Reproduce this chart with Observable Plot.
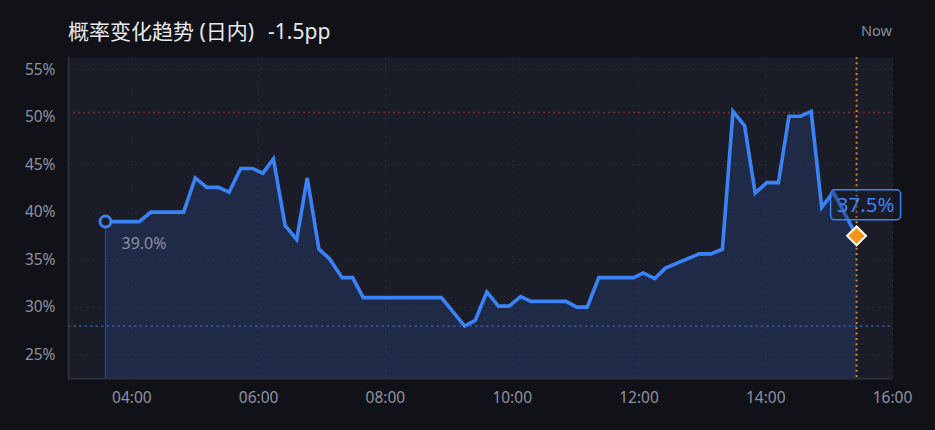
<!DOCTYPE html>
<html>
<head>
<meta charset="utf-8">
<script src="https://cdn.jsdelivr.net/npm/d3@7"></script>
<script src="https://cdn.jsdelivr.net/npm/@observablehq/plot@0.6"></script>
<style>
  html, body { margin: 0; padding: 0; background: #111217; }
  #wrap { position: relative; width: 935px; height: 430px; background: #111217; font-family: "Noto Sans", "Noto Sans CJK SC", sans-serif; overflow: hidden; }
  #title { position: absolute; left: 68px; top: 17px; font-size: 21px; line-height: 28px; color: #e7e8ec; white-space: nowrap; }
  #title .delta { margin-left: 14px; }
  #now { position: absolute; right: 43px; top: 19px; font-size: 14.5px; line-height: 22px; color: #878b9c; }
  #chart { position: absolute; left: 0; top: 57px; }
</style>
</head>
<body>
<div id="wrap">
  <div id="title">概率变化趋势 (日内)<span class="delta">-1.5pp</span></div>
  <div id="now">Now</div>
  <div id="chart"></div>
</div>
<script>
// ---- data ----
const times = ["03:35","04:07","04:18","04:49","05:00","05:11","05:22","05:32","05:43","05:54",
               "06:04","06:14","06:25","06:36","06:46","06:57","07:07","07:19","07:29","07:39",
               "08:53","09:15","09:25","09:36","09:47","09:57","10:08","10:18","10:51","11:01",
               "11:11","11:22","11:55","12:04","12:15","12:25","12:57","13:08","13:19","13:29",
               "13:40","13:50","14:01","14:12","14:22","14:33","14:43","14:53","15:04","15:26"];
const values = [39.0,39.0,40.0,40.0,43.6,42.6,42.6,42.1,44.6,44.6,
                44.1,45.6,38.6,37.1,43.6,36.1,35.1,33.1,33.1,31.0,
                31.0,28.0,28.6,31.6,30.1,30.1,31.1,30.6,30.6,30.0,
                30.0,33.1,33.1,33.6,33.0,34.1,35.6,35.6,36.1,50.6,
                49.1,42.0,43.1,43.1,50.1,50.1,50.6,40.5,42.1,37.5];
const xDomain = ["03:00","16:00"];
const xTickLabels = ["04:00","06:00","08:00","10:00","12:00","14:00","16:00"];
const yDomain = [22.48, 56.28];
const yTicks = [25,30,35,40,45,50,55];
const maxValue = 50.5;
const minValue = 28.0;
const nowTime = "15:26";

// ---- build ----
const parse = d3.utcParse("%H:%M");
const data = times.map((t, i) => ({t: parse(t), v: values[i]}));
const first = data[0];
const last = data[data.length - 1];
const xTicks = xTickLabels.map(parse);

const BLUE = "#3b82f6";
const PANEL = "#1a1c27";
const GRID = "#232634";

function endLabel(index, scales, values, dimensions, context) {
  const g = d3.create("svg:g");
  const px = scales.x(last.t), py = scales.y(last.v);
  g.append("rect")
    .attr("x", px - 25.5).attr("y", py - 45.5)
    .attr("width", 70).attr("height", 30)
    .attr("rx", 4).attr("ry", 4)
    .attr("fill", "rgba(26,28,39,0.35)")
    .attr("stroke", BLUE).attr("stroke-width", 1.5);
  g.append("text")
    .attr("x", px + 9.5).attr("y", py - 30.5)
    .attr("text-anchor", "middle").attr("dy", "0.36em")
    .attr("fill", BLUE).attr("font-size", 20.5)
    .text(last.v.toFixed(1) + "%");
  return g.node();
}

const chart = Plot.plot({
  width: 935,
  height: 373,
  marginLeft: 68,
  marginRight: 43,
  marginTop: 0,
  marginBottom: 52,
  style: {background: "transparent", color: "#8d91a3", fontFamily: "'Noto Sans', sans-serif", fontSize: "15.5px", overflow: "visible"},
  x: {type: "utc", domain: xDomain.map(parse), label: null},
  y: {domain: yDomain, label: null},
  marks: [
    Plot.frame({fill: PANEL, stroke: null}),
    Plot.gridY(yTicks, {stroke: GRID, strokeOpacity: 1, strokeDasharray: "3,3"}),
    Plot.gridX(xTicks, {stroke: GRID, strokeOpacity: 1, strokeDasharray: "3,3"}),
    Plot.areaY(data, {x: "t", y1: yDomain[0], y2: "v", fill: BLUE, fillOpacity: 0.15}),
    Plot.ruleX([first], {x: "t", y1: yDomain[0], y2: "v", stroke: BLUE, strokeOpacity: 0.3, strokeWidth: 1.5}),
    Plot.ruleY([maxValue], {stroke: "#6e3131", strokeWidth: 1.5, strokeDasharray: "2,3"}),
    Plot.ruleY([minValue], {stroke: "#2c5591", strokeWidth: 1.8, strokeDasharray: "2.5,3"}),
    Plot.ruleX([parse(nowTime)], {stroke: "#d9861b", strokeWidth: 2, strokeDasharray: "2,3.3"}),
    Plot.ruleX([parse(xDomain[0])], {stroke: "#2b2e3e", strokeWidth: 2}),
    Plot.ruleY([yDomain[0]], {stroke: "#2b2e3e", strokeWidth: 2}),
    Plot.axisY(yTicks, {tickSize: 0, tickPadding: 13, tickFormat: d => d + "%", fill: "#8d91a3", label: null}),
    Plot.axisX(xTicks, {tickSize: 0, tickPadding: 13, tickFormat: "%H:%M", fill: "#8d91a3", label: null}),
    Plot.lineY(data, {x: "t", y: "v", stroke: BLUE, strokeWidth: 3.6, strokeLinejoin: "miter", strokeMiterlimit: 4}),
    Plot.dot([first], {x: "t", y: "v", r: 5.5, stroke: BLUE, strokeWidth: 3, fill: PANEL}),
    Plot.text([first], {x: "t", y: "v", text: d => d.v.toFixed(1) + "%", textAnchor: "start", dx: 16, dy: 22, fill: "#8d91a3", fontSize: 16}),
    endLabel,
    Plot.dot([last], {x: "t", y: "v", symbol: "diamond2", r: 8.5, fill: "#f7931a", stroke: "#ffffff", strokeWidth: 2})
  ]
});
document.getElementById("chart").appendChild(chart);
</script>
</body>
</html>
